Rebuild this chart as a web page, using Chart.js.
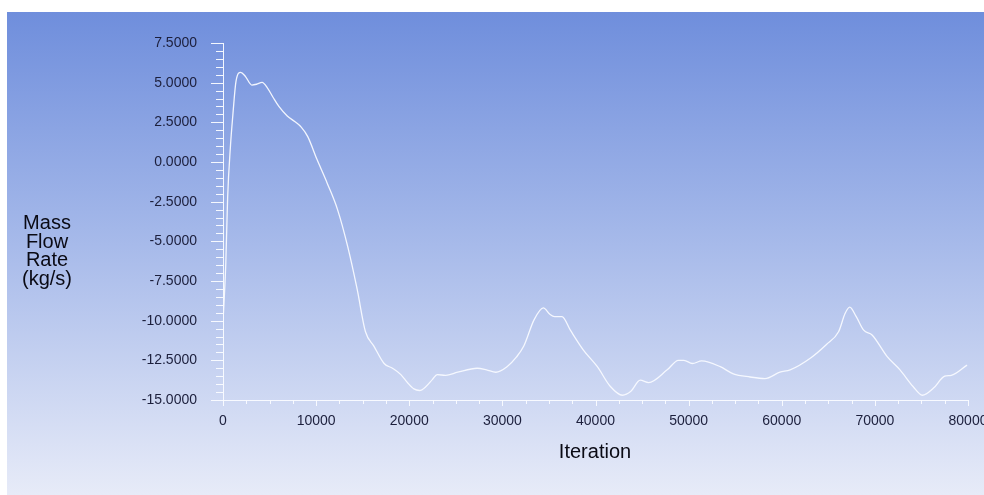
<!DOCTYPE html>
<html>
<head>
<meta charset="utf-8">
<script src="https://cdn.jsdelivr.net/npm/chart.js@4/dist/chart.umd.min.js"></script>
<style>
  html, body { margin: 0; padding: 0; background: #ffffff; }
  #wrap { width: 984px; height: 495px; position: relative; }
</style>
</head>
<body>
<div id="wrap"><canvas id="plot" width="984" height="495"></canvas></div>
<script>
// Monitored mass flow rate history
const iterations = [
  0, 300, 500, 800, 1050, 1400, 1900, 2400, 3100, 3600, 4200, 4800, 5400, 6000,
  6900, 7700, 8400, 9100, 10100, 11200, 12300, 13400, 14400, 15300, 16200, 17300,
  18200, 19100, 19800, 20500, 21100, 21800, 22500, 23000, 23900, 25200, 27300,
  28300, 29300, 30500, 31500, 32300, 33400, 34400, 35100, 35600, 36400, 37300,
  38700, 40200, 41600, 42900, 43800, 44800, 45700, 47700, 48900, 49500, 50400,
  51400, 53400, 54800, 56600, 58200, 59800, 60900, 63100, 64800, 66100, 66800,
  67300, 68000, 68800, 69700, 71300, 72700, 74100, 75100, 76300, 77500, 78200, 79900
];
const massFlowRate = [
  -10.1, -6.4, -2.2, 1.0, 2.9, 5.1, 5.65, 5.4, 4.85, 4.9, 5.02, 4.64, 4.05, 3.5,
  2.9, 2.55, 2.2, 1.6, 0.15, -1.35, -3.0, -5.35, -8.0, -10.7, -11.6, -12.7,
  -13.0, -13.4, -13.9, -14.3, -14.4, -14.15, -13.7, -13.4, -13.45, -13.25, -13.0,
  -13.1, -13.25, -12.9, -12.3, -11.6, -9.95, -9.2, -9.6, -9.75, -9.75, -10.6,
  -11.85, -12.9, -14.15, -14.7, -14.45, -13.75, -13.9, -13.1, -12.5, -12.5, -12.7,
  -12.54, -12.9, -13.35, -13.55, -13.65, -13.25, -13.1, -12.35, -11.5, -10.7, -9.55,
  -9.15, -9.75, -10.6, -10.9, -12.25, -13.1, -14.15, -14.7, -14.25, -13.5, -13.45, -12.8
];

const xTicks = [0, 10000, 20000, 30000, 40000, 50000, 60000, 70000, 80000];
const yTicks = [-15, -12.5, -10, -7.5, -5, -2.5, 0, 2.5, 5, 7.5];
const xMinorStep = 2500;
const yMinorStep = 0.5;
const xTitle = 'Iteration';
const yTitleLines = ['Mass', 'Flow', 'Rate', '(kg/s)'];

const points = iterations.map((it, i) => ({ x: it, y: massFlowRate[i] }));

const FONT = '"Liberation Sans", Arial, sans-serif';
const AXIS_COLOR = 'rgba(250,252,255,0.95)';

// Gradient backdrop behind the whole plot
const backdrop = {
  id: 'backdrop',
  beforeDraw(chart) {
    const { ctx, width, height } = chart;
    const g = ctx.createLinearGradient(0, 12, 0, height);
    g.addColorStop(0, '#6f8edc');
    g.addColorStop(0.45, '#a3b7e9');
    g.addColorStop(1, '#e7ebf8');
    ctx.save();
    ctx.fillStyle = g;
    ctx.fillRect(7, 12, width - 7, height - 12);
    ctx.restore();
  }
};

// Major and minor tick marks, plus the axis titles
const axisDecor = {
  id: 'axisDecor',
  afterDraw(chart) {
    const { ctx, chartArea: a, scales: { x, y } } = chart;
    ctx.save();
    ctx.strokeStyle = AXIS_COLOR;
    ctx.lineWidth = 1;
    ctx.beginPath();
    for (let v = x.min; v <= x.max + 1e-6; v += xMinorStep) {
      const px = Math.round(x.getPixelForValue(v)) + 0.5;
      const major = Math.abs(v % 10000) < 1e-6;
      ctx.moveTo(px, a.bottom);
      ctx.lineTo(px, a.bottom + (major ? 6 : 4));
    }
    for (let v = y.min; v <= y.max + 1e-6; v += yMinorStep) {
      const py = Math.round(y.getPixelForValue(v)) + 0.5;
      const r = Math.abs(v / 2.5 - Math.round(v / 2.5)) < 1e-6;
      ctx.moveTo(a.left, py);
      ctx.lineTo(a.left - (r ? 12 : 7), py);
    }
    ctx.stroke();

    ctx.fillStyle = '#0a0a14';
    ctx.textAlign = 'center';
    ctx.textBaseline = 'alphabetic';
    ctx.font = '20px ' + FONT;
    ctx.fillText(xTitle, 595, 458);
    yTitleLines.forEach((t, i) => ctx.fillText(t, 47, 229 + i * 18.7));
    ctx.restore();
  }
};

new Chart(document.getElementById('plot'), {
  type: 'line',
  data: {
    datasets: [{
      data: points,
      borderColor: 'rgba(248,250,255,0.95)',
      borderWidth: 1.3,
      pointRadius: 0,
      fill: false,
      cubicInterpolationMode: 'monotone'
    }]
  },
  options: {
    responsive: false,
    animation: false,
    events: [],
    layout: { padding: { top: 43, right: 16, left: 0, bottom: 0 } },
    plugins: { legend: { display: false }, tooltip: { enabled: false } },
    scales: {
      x: {
        type: 'linear',
        min: 0,
        max: 80000,
        afterBuildTicks(s) { s.ticks = xTicks.map(v => ({ value: v })); },
        afterFit(s) { s.height = 95; s.paddingLeft = 0; s.paddingRight = 0; },
        grid: { drawOnChartArea: false, drawTicks: false },
        border: { display: true, color: AXIS_COLOR, width: 1 },
        ticks: {
          autoSkip: false,
          maxRotation: 0,
          padding: 13,
          color: '#1c1f3c',
          font: { family: FONT, size: 14 },
          callback: v => String(v)
        }
      },
      y: {
        type: 'linear',
        min: -15,
        max: 7.5,
        afterBuildTicks(s) { s.ticks = yTicks.map(v => ({ value: v })); },
        afterFit(s) { s.width = 223; s.paddingTop = 0; s.paddingBottom = 0; },
        grid: { drawOnChartArea: false, drawTicks: false },
        border: { display: true, color: AXIS_COLOR, width: 1 },
        ticks: {
          autoSkip: false,
          padding: 26,
          color: '#1c1f3c',
          font: { family: FONT, size: 14 },
          callback: v => Number(v).toFixed(4)
        }
      }
    }
  },
  plugins: [backdrop, axisDecor]
});
</script>
</body>
</html>
